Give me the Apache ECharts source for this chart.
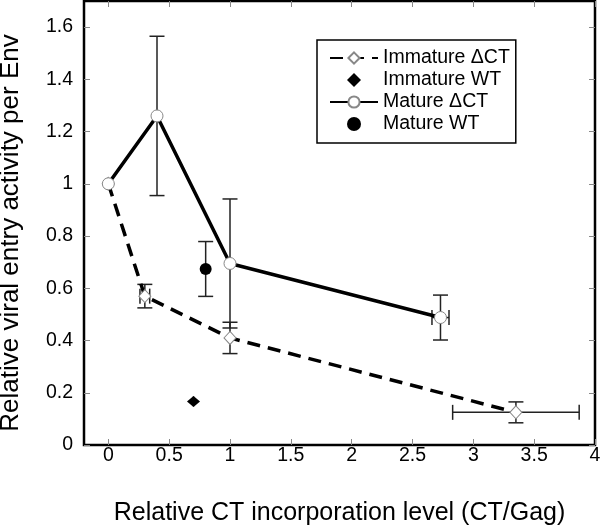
<!DOCTYPE html>
<html>
<head>
<meta charset="utf-8">
<script src="https://cdn.jsdelivr.net/npm/echarts@6/dist/echarts.min.js"></script>
<style>
html, body { margin: 0; padding: 0; background: #fff; }
#chart { width: 600px; height: 526px; }
</style>
</head>
<body>
<div id="chart"></div>
<script>
// values
var immatureCT = [[0, 1.0], [0.3, 0.57], [1.0, 0.41], [3.35, 0.125]];
var immatureCTxErr = [0.015, 0.04, 0, 0.52];
var immatureCTyErr = [0.015, 0.045, 0.06, 0.04];

var immatureWT = [[0.7, 0.167]];
var immatureWTxErr = [0];
var immatureWTyErr = [0.019];

var matureCT = [[0, 1.0], [0.4, 1.26], [1.0, 0.695], [2.73, 0.488]];
var matureCTxErr = [0.015, 0, 0, 0.07];
var matureCTyErr = [0.015, 0.305, 0.247, 0.086];

var matureWT = [[0.8, 0.674]];
var matureWTxErr = [0];
var matureWTyErr = [0.105];

var xTicks = [0, 0.5, 1, 1.5, 2, 2.5, 3, 3.5, 4];
var yTicks = [0, 0.2, 0.4, 0.6, 0.8, 1, 1.2, 1.4, 1.6];

var FONT = 'Liberation Sans, Arial, sans-serif';
var DIAMOND = 'path://M0,-1L1,0L0,1L-1,0Z';

function errRows(pts, xe, ye){
	var rows = [];
	for(var i=0; i<pts.length; i++){
		rows.push([pts[i][0], pts[i][1], xe[i], ye[i]]);
	}
	return rows;
}

var errData = []
	.concat(errRows(immatureCT, immatureCTxErr, immatureCTyErr))
	.concat(errRows(immatureWT, immatureWTxErr, immatureWTyErr))
	.concat(errRows(matureCT, matureCTxErr, matureCTyErr))
	.concat(errRows(matureWT, matureWTxErr, matureWTyErr));

function renderErr(params, api){
	var x = api.value(0), y = api.value(1), xe = api.value(2), ye = api.value(3);
	var children = [];
	var st = { stroke: '#222', lineWidth: 1.5 };
	var cap = 7.5;
	if(ye > 0){
		var top = api.coord([x, y + ye]);
		var bot = api.coord([x, y - ye]);
		children.push({ type: 'line', shape: { x1: top[0], y1: top[1], x2: bot[0], y2: bot[1] }, style: st });
		if(ye > 0.02){
			children.push({ type: 'line', shape: { x1: top[0]-cap, y1: top[1], x2: top[0]+cap, y2: top[1] }, style: st });
			children.push({ type: 'line', shape: { x1: bot[0]-cap, y1: bot[1], x2: bot[0]+cap, y2: bot[1] }, style: st });
		}
	}
	if(xe > 0){
		var l = api.coord([x - xe, y]);
		var r = api.coord([x + xe, y]);
		children.push({ type: 'line', shape: { x1: l[0], y1: l[1], x2: r[0], y2: r[1] }, style: st });
		if(xe > 0.02){
			children.push({ type: 'line', shape: { x1: l[0], y1: l[1]-cap, x2: l[0], y2: l[1]+cap }, style: st });
			children.push({ type: 'line', shape: { x1: r[0], y1: r[1]-cap, x2: r[0], y2: r[1]+cap }, style: st });
		}
	}
	return { type: 'group', children: children };
}

var chart = echarts.init(document.getElementById('chart'));

var tickStyle = { inside: true, length: 6, lineStyle: { color: '#888', width: 1 } };

var options = {
	backgroundColor: '#fff',
	animation: false,
	textStyle: { fontFamily: FONT },
	grid: {
		left: 84, top: 1, right: 5, bottom: 81,
		outerBoundsMode: 'none',
		containLabel: false,
		show: true, borderColor: '#000', borderWidth: 2.5, backgroundColor: 'transparent'
	},
	legend: {
		orient: 'vertical',
		left: 317, top: 40,
		borderColor: '#000', borderWidth: 1.5,
		padding: [8, 6, 9, 12],
		itemGap: 2,
		itemWidth: 48, itemHeight: 14,
		symbolKeepAspect: true,
		textStyle: { fontSize: 19.5, color: '#000', fontFamily: FONT },
		data: [
			{ name: 'Immature \u0394CT' },
			{ name: 'Immature WT', icon: DIAMOND },
			{ name: 'Mature \u0394CT' },
			{ name: 'Mature WT', icon: 'circle' }
		]
	},
	xAxis: [{
		type: 'value', min: -0.2, max: 4,
		name: 'Relative CT incorporation level (CT/Gag)',
		nameLocation: 'middle', nameGap: 56,
		nameTextStyle: { fontSize: 25, color: '#000', fontFamily: FONT },
		axisLine: { show: false, onZero: false },
		splitLine: { show: false },
		axisTick: Object.assign({ customValues: xTicks }, tickStyle),
		axisLabel: { customValues: xTicks, fontSize: 19.5, color: '#000', margin: 1, fontFamily: FONT }
	}, {
		type: 'value', min: -0.2, max: 4, position: 'top',
		axisLine: { show: false, onZero: false }, splitLine: { show: false },
		axisTick: Object.assign({ customValues: xTicks }, tickStyle),
		axisLabel: { show: false }
	}],
	yAxis: [{
		type: 'value', min: 0, max: 1.7,
		name: 'Relative viral entry activity per Env',
		nameLocation: 'middle', nameGap: 60,
		nameTextStyle: { fontSize: 26, color: '#000', fontFamily: FONT, padding: [0, 20, 0, 0] },
		axisLine: { show: false, onZero: false },
		splitLine: { show: false },
		axisTick: Object.assign({ customValues: yTicks }, tickStyle),
		axisLabel: { customValues: yTicks, fontSize: 19.5, color: '#000', margin: 11, fontFamily: FONT }
	}, {
		type: 'value', min: 0, max: 1.7, position: 'right',
		axisLine: { show: false, onZero: false }, splitLine: { show: false },
		axisTick: Object.assign({ customValues: yTicks }, tickStyle),
		axisLabel: { show: false }
	}],
	series: [{
		name: 'errors',
		type: 'custom',
		renderItem: renderErr,
		data: errData,
		z: 1,
		silent: true
	}, {
		name: 'Immature \u0394CT',
		type: 'line',
		data: immatureCT,
		symbol: 'diamond',
		symbolSize: [12, 13],
		lineStyle: { color: '#000', width: 3.5, type: [13, 8] },
		itemStyle: { color: '#fff', borderColor: '#888', borderWidth: 1 },
		z: 3
	}, {
		name: 'Immature WT',
		type: 'scatter',
		data: immatureWT,
		symbol: 'diamond',
		symbolSize: [13, 11],
		itemStyle: { color: '#000', opacity: 1 },
		z: 4
	}, {
		name: 'Mature \u0394CT',
		type: 'line',
		data: matureCT,
		symbol: 'circle',
		symbolSize: 12,
		lineStyle: { color: '#000', width: 3.5 },
		itemStyle: { color: '#fff', borderColor: '#888', borderWidth: 1 },
		z: 3
	}, {
		name: 'Mature WT',
		type: 'scatter',
		data: matureWT,
		symbol: 'circle',
		symbolSize: 12,
		itemStyle: { color: '#000', opacity: 1 },
		z: 4
	}]
};

chart.setOption(options);
</script>
</body>
</html>
